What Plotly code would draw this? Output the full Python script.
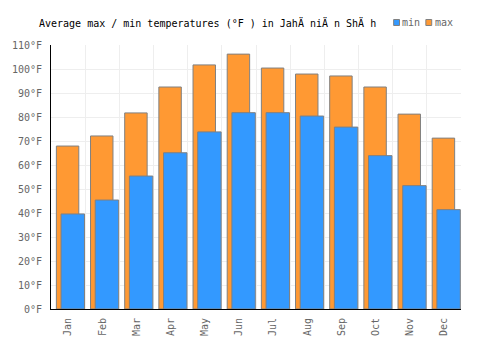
import plotly.graph_objects as go

months = ["Jan", "Feb", "Mar", "Apr", "May", "Jun", "Jul", "Aug", "Sep", "Oct", "Nov", "Dec"]
temp_max = [67.9, 72.1, 81.7, 92.5, 101.7, 106.2, 100.4, 97.9, 97.1, 92.5, 81.2, 71.2]
temp_min = [39.6, 45.4, 55.4, 65.1, 73.8, 81.8, 81.8, 80.4, 75.8, 63.9, 51.4, 41.4]
y_ticks = list(range(0, 111, 10))

W, H = 500, 350
L, R, T, B = 41, 39, 45, 41
PW, PH = W - L - R, H - T - B

def px_x(p):
    return (p - L) / PW

def px_y(p):
    return (H - B - p) / PH

ORANGE = "#FF9933"
BLUE = "#3399FF"
EDGE = "#808080"
FONT = "DejaVu Sans Mono"

xs = list(range(len(months)))

fig = go.Figure()
fig.add_bar(x=xs, y=temp_max, name="max", width=0.657, offset=-0.343,
            marker=dict(color=ORANGE, line=dict(color=EDGE, width=1)), showlegend=False)
fig.add_bar(x=xs, y=temp_min, name="min", width=0.686, offset=-0.206,
            marker=dict(color=BLUE, line=dict(color=EDGE, width=1)), showlegend=False)

fig.update_layout(
    width=W, height=H,
    margin=dict(l=L, r=R, t=T, b=B, pad=0),
    paper_bgcolor="white", plot_bgcolor="white",
    barmode="overlay",
    font=dict(family=FONT, size=10, color="#666666"),
    title=dict(text="Average max / min temperatures (°F ) in JahÄ niÄ n ShÄ h",
               x=39 / W, xanchor="left", xref="container",
               y=1 - 23 / H, yanchor="middle", yref="container",
               font=dict(family=FONT, size=10, color="black")),
    xaxis=dict(range=[-0.5, 11.5], tickmode="array", tickvals=xs, ticktext=months,
               tickangle=-90, showgrid=False, zeroline=False,
               showline=True, linecolor="black", linewidth=1, ticks="",
               ticklabelstandoff=4,
               minor=dict(tickvals=[i + 0.5 for i in range(-1, 12)], showgrid=True,
                          gridcolor="#EEEEEE", gridwidth=1, ticks="")),
    yaxis=dict(range=[0, 110], tickmode="array", tickvals=y_ticks,
               ticktext=[f"{v}°F" for v in y_ticks],
               showgrid=True, gridcolor="#EEEEEE", gridwidth=1, zeroline=False,
               showline=True, linecolor="black", linewidth=1, ticks="",
               ticklabelstandoff=6),
)

# legend (manual)
def square(x0, color):
    fig.add_shape(type="rect", xref="paper", yref="paper",
                  x0=px_x(x0), x1=px_x(x0 + 6), y0=px_y(25.5), y1=px_y(19.5),
                  fillcolor=color, line=dict(color=EDGE, width=1))

def label(x0, text):
    fig.add_annotation(xref="paper", yref="paper", x=px_x(x0), y=px_y(22.5),
                       xanchor="left", yanchor="middle", text=text, showarrow=False,
                       font=dict(family=FONT, size=10, color="#666666"))

square(392, BLUE)
label(399, "min")
square(425, ORANGE)
label(432, "max")

fig.write_html("out.html")
